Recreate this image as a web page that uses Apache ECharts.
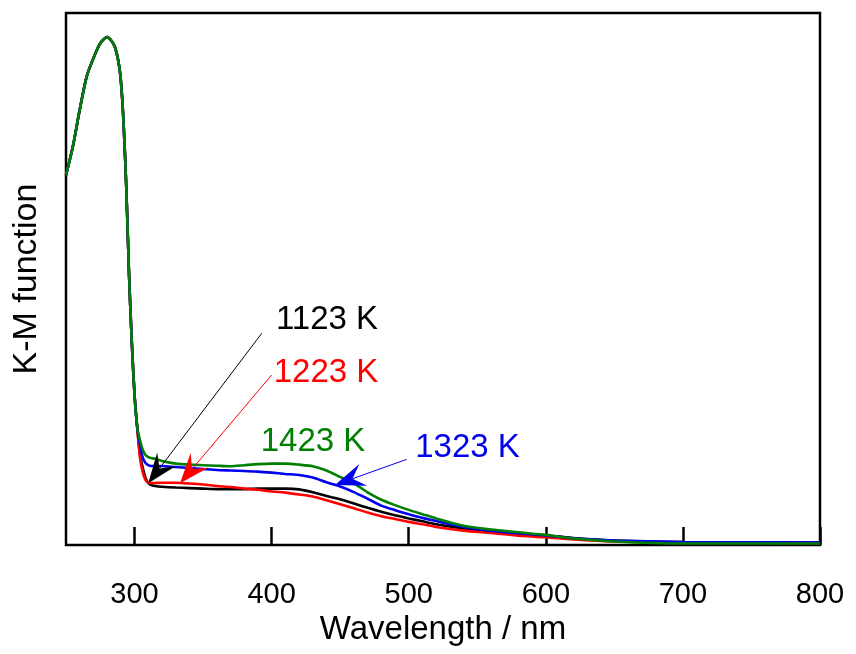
<!DOCTYPE html>
<html><head><meta charset="utf-8">
<script src="https://cdn.jsdelivr.net/npm/echarts@6/dist/echarts.min.js"></script>
<style>html,body{margin:0;padding:0;background:#fff}#c{width:856px;height:654px}</style>
</head><body><div id="c"></div>
<script>
// ---- data ----
const wavelength = [250,255,260,265,270,275,280,285,288,290,292,294,296,298,300,302,
  304,306,308,310,312,315,320,330,340,350,360,370,380,390,400,410,420,430,440,450,460,470,480,490,500,510,520,540,560,580,600,620,650,700,750,800];
const km1123 = [0.695,0.749,0.818,0.880,0.915,0.943,0.955,0.940,0.912,0.874,0.793,0.67,0.507,0.381,0.282,0.22,
  0.169,0.145,0.126,0.1165,0.1128,0.111,0.1096,0.108,0.107,0.106,0.105,0.1047,0.105,0.106,0.106,0.106,0.1045,0.099,0.092,0.086,0.078,0.070,0.0625,0.056,0.050,0.0445,0.039,0.031,0.0255,0.0215,0.018,0.0132,0.0085,0.0056,0.0051,0.0047];
const km1223 = [0.695,0.749,0.818,0.880,0.915,0.943,0.955,0.940,0.912,0.874,0.793,0.67,0.507,0.381,0.282,0.22,
  0.1635,0.137,0.122,0.1175,0.1165,0.1165,0.117,0.117,0.1156,0.1137,0.111,0.109,0.106,0.104,0.1005,0.0985,0.095,0.091,0.084,0.0765,0.069,0.061,0.054,0.049,0.0435,0.039,0.034,0.027,0.0225,0.0175,0.0145,0.0103,0.0066,0.0047,0.0043,0.0038];
const km1323 = [0.695,0.749,0.818,0.880,0.915,0.943,0.955,0.940,0.912,0.874,0.793,0.67,0.507,0.381,0.282,0.22,
  0.188,0.164,0.154,0.150,0.1485,0.1485,0.1485,0.1466,0.1447,0.1429,0.141,0.140,0.139,0.138,0.136,0.1335,0.1316,0.127,0.118,0.110,0.0995,0.087,0.074,0.0655,0.058,0.051,0.045,0.034,0.027,0.022,0.018,0.0126,0.0085,0.0056,0.0051,0.0047];
const km1423 = [0.695,0.749,0.818,0.880,0.915,0.943,0.955,0.940,0.912,0.874,0.793,0.67,0.507,0.381,0.282,0.22,
  0.197,0.179,0.169,0.165,0.1635,0.162,0.158,0.153,0.151,0.150,0.149,0.148,0.150,0.152,0.153,0.153,0.151,0.148,0.140,0.128,0.116,0.099,0.085,0.075,0.066,0.058,0.050,0.036,0.029,0.024,0.019,0.0122,0.0066,0.0028,0.0028,0.0028];
const xTickValues = [300,400,500,600,700,800];
const seriesNames = ['1123 K','1223 K','1323 K','1423 K'];
// ---------------------------------------

const FONT = "'Liberation Sans', Arial, Helvetica, sans-serif";
const colors = ['#000000','#ff0000','#0000ee','#008000'];
const seriesData = [km1123, km1223, km1323, km1423];
// annotation layout (data coordinates)
const annot = [
  {text:[440.4,0.424], from:[392.8,0.398], to:[310.0,0.116]},
  {text:[439.7,0.323], from:[400.0,0.3195], to:[333.2,0.116]},
  {text:[542.9,0.183], from:[498.5,0.161], to:[446.2,0.1128]},
  {text:[430.2,0.193], from:null, to:null}
];

const chart = echarts.init(document.getElementById('c'), null, {renderer:'canvas'});
const series = seriesNames.map((name, i) => ({
  name, type:'line', data: wavelength.map((w, k) => [w, seriesData[i][k]]),
  showSymbol:false, symbol:'none', smooth:0.25,
  lineStyle:{color:colors[i], width:2.6}, itemStyle:{color:colors[i]},
  z: 2 + i, silent:true
}));

chart.setOption({
  animation:false,
  backgroundColor:'#fff',
  textStyle:{fontFamily:FONT},
  grid:{left:66, right:36, top:13, bottom:109, show:true, borderColor:'#000', borderWidth:2.5, backgroundColor:'transparent'},
  xAxis:{
    type:'value', min:250, max:800,
    name:'Wavelength / nm', nameLocation:'middle', nameGap:63,
    nameTextStyle:{color:'#000', fontSize:33, fontFamily:FONT},
    axisLine:{show:false},
    axisTick:{show:true, inside:true, length:18, lineStyle:{color:'#000', width:2.5}, customValues:xTickValues},
    axisLabel:{color:'#000', fontSize:29, fontFamily:FONT, margin:35, customValues:xTickValues},
    splitLine:{show:false}
  },
  yAxis:{
    type:'value', min:0, max:1,
    name:'K-M function', nameLocation:'middle', nameGap:22, nameRotate:90,
    nameTextStyle:{color:'#000', fontSize:34, fontFamily:FONT},
    axisLine:{show:false}, axisTick:{show:false}, axisLabel:{show:false}, splitLine:{show:false}
  },
  series
});

const L = 30, HW = 11.5, NOTCH = 0.62;
const graphics = [];
annot.forEach((a, i) => {
  const p = chart.convertToPixel({gridIndex:0}, a.text);
  graphics.push({type:'text', x:p[0], y:p[1], z:100, silent:true,
    style:{text:seriesNames[i], fill:colors[i], font:'33px ' + FONT, align:'center', verticalAlign:'middle'}});
  if (a.from) {
    const f = chart.convertToPixel({gridIndex:0}, a.from);
    const t = chart.convertToPixel({gridIndex:0}, a.to);
    const dx = t[0] - f[0], dy = t[1] - f[1], len = Math.hypot(dx, dy);
    const ux = dx / len, uy = dy / len, nx = -uy, ny = ux;
    const bx = t[0] - ux * L, by = t[1] - uy * L;
    const mx = t[0] - ux * L * NOTCH, my = t[1] - uy * L * NOTCH;
    graphics.push({type:'line', z:99, silent:true,
      shape:{x1:f[0], y1:f[1], x2:mx, y2:my}, style:{stroke:colors[i], lineWidth:1}});
    graphics.push({type:'polygon', z:99, silent:true,
      shape:{points:[[t[0],t[1]],[bx + nx*HW, by + ny*HW],[mx,my],[bx - nx*HW, by - ny*HW]]},
      style:{fill:colors[i]}});
  }
});
chart.setOption({graphic: graphics});
</script></body></html>
